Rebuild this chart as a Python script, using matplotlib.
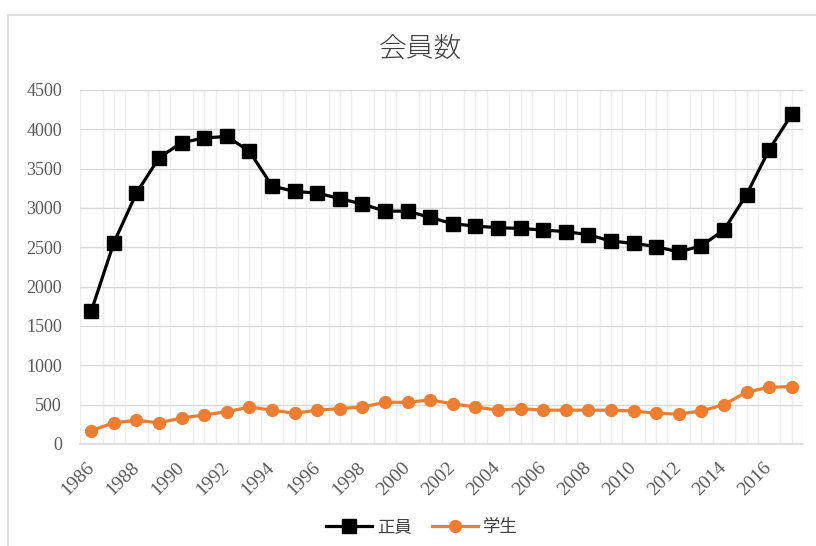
import numpy as np
import matplotlib
matplotlib.use("Agg")
from matplotlib import pyplot as plt
from matplotlib.patches import Rectangle

plt.rcParams['font.family'] = ['Noto Sans CJK JP', 'DejaVu Sans']

years = list(range(1986, 2018))
seiin = [1690, 2560, 3190, 3640, 3830, 3890, 3910, 3720, 3280, 3210,
         3190, 3120, 3050, 2960, 2960, 2880, 2800, 2770, 2750, 2740,
         2720, 2700, 2660, 2580, 2550, 2510, 2440, 2520, 2720, 3170,
         3740, 4190]
gakusei = [170, 270, 300, 270, 330, 370, 410, 470, 430, 390,
           430, 450, 470, 530, 530, 560, 510, 470, 430, 450,
           430, 430, 430, 430, 420, 390, 380, 420, 500, 660,
           720, 730]
tick_years = list(range(1986, 2017, 2))
title = "会員数"
labels = ["正員", "学生"]

W, H = 816, 546
fig = plt.figure(figsize=(W / 100, H / 100), dpi=100)
# chart frame (only left and top edges are visible in the crop)
fig.patches.append(Rectangle((8 / W, -0.1), 1.2, 1 - 15 / H + 0.1,
                             transform=fig.transFigure, fill=False,
                             edgecolor='#d9d9d9', lw=1.2))

ax = fig.add_axes([80 / W, 1 - 444 / H, (803 - 80) / W, (444 - 90) / H])

ax.plot(years, seiin, color='black', lw=2.3, marker='s', markersize=10,
        label=labels[0], zorder=3)
ax.plot(years, gakusei, color='#ED7D31', lw=2.3, marker='o', markersize=8.5,
        label=labels[1], zorder=3)

ax.set_xlim(1985.5, 2017.5)
ax.set_ylim(0, 4500)
ax.set_yticks(np.arange(0, 4501, 500))
ax.set_xticks(tick_years)
ax.set_xticks(np.arange(1985.5, 2017.6, 0.5), minor=True)
ax.grid(axis='y', color='#d9d9d9', lw=1.0)
ax.grid(axis='x', which='minor', color='#eeeeee', lw=1.0)
ax.set_axisbelow(True)
for side in ['top', 'right', 'left']:
    ax.spines[side].set_visible(False)
ax.spines['bottom'].set_color('#d9d9d9')
ax.spines['bottom'].set_linewidth(1.2)
ax.tick_params(which='both', length=0)
ax.tick_params(axis='y', pad=13)
ax.tick_params(axis='x', pad=15)

for lab in ax.get_yticklabels():
    lab.set_fontfamily('Liberation Serif')
    lab.set_fontsize(13)
    lab.set_color('#595959')
ax.set_xticklabels([str(y) for y in tick_years], rotation=45, ha='right',
                   va='center', rotation_mode='anchor',
                   family='Liberation Serif', fontsize=14, color='#595959')

fig.text(420 / W, 1 - 48 / H, title, ha='center', va='center', fontsize=20,
         color='#404040', fontweight='light')

fig.legend(loc='center', bbox_to_anchor=(422 / W, 1 - 527 / H), ncol=2,
           frameon=False, fontsize=12.5, handlelength=2.6, columnspacing=1.2,
           handletextpad=0.3, labelcolor='#404040')

fig.savefig('out.png', dpi=100)
